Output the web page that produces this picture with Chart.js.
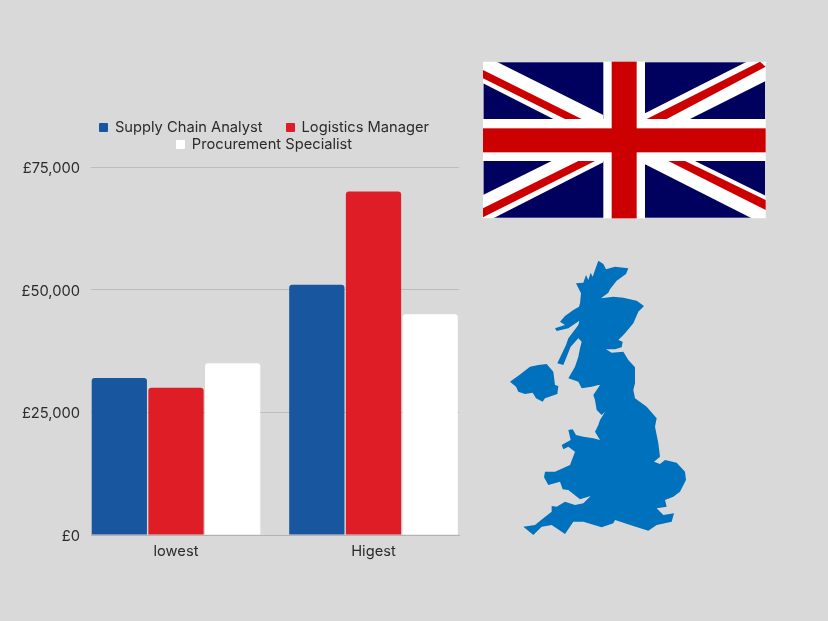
<!DOCTYPE html>
<html>
<head>
<meta charset="utf-8">
<title>Salaries</title>
<script src="https://cdn.jsdelivr.net/npm/chart.js@4"></script>
<style>
html, body { margin: 0; padding: 0; }
body { width: 828px; height: 621px; background: #d9d9d9; overflow: hidden; position: relative; font-family: Inter, sans-serif; }
#myChart { position: absolute; left: 0; top: 0; }
#legend { position: absolute; left: 64px; top: 119px; width: 400px; display: flex; flex-wrap: wrap; justify-content: center; column-gap: 23px; font-size: 14.7px; line-height: 17px; color: #2b2b2b; }
#legend span.item { display: flex; align-items: center; white-space: nowrap; }
#legend i { width: 9px; height: 9px; border-radius: 1px; margin-right: 7px; display: block; }
svg { position: absolute; }
</style>
</head>
<body>
<canvas id="myChart" width="480" height="621"></canvas>
<div id="legend"></div>

<svg style="left:475px;top:55px" width="300" height="170" viewBox="0 0 900 510">
  <rect x="26" y="22" width="844" height="466" fill="#00005f"/>
  <g fill="#ffffff">
    <polygon points="24,20 65,20 385,180 385,192 235,192 24,85"/>
    <polygon points="815,20 872,20 872,78 645,192 510,192 510,175"/>
    <polygon points="24,420 230,318 385,318 385,322 55,490 24,490"/>
    <polygon points="510,318 660,318 872,422 872,490 830,490 510,328"/>
    <rect x="385" y="20" width="125" height="470"/>
    <rect x="24" y="192" width="848" height="126"/>
  </g>
  <g fill="#cc0000">
    <polygon points="24,45 320,192 270,192 24,70"/>
    <polygon points="855,20 872,35 575,192 515,192"/>
    <polygon points="24,460 310,318 360,318 24,487"/>
    <polygon points="580,318 630,318 872,435 872,465"/>
    <rect x="410" y="20" width="75" height="470"/>
    <rect x="24" y="220" width="848" height="72"/>
  </g>
</svg>

<svg style="left:500px;top:250px" width="200" height="290" viewBox="0 0 600 870">
  <path fill="#0071bc" d="M295,32 310,42 318,58 345,50 385,55 378,72 350,92 330,118 325,128 303,145 340,140 370,143 410,152 432,168 415,185 400,220 375,250 355,270 368,275 365,292 345,298 318,298 335,308 370,305 385,330 405,352 405,400 400,420 405,445 440,470 470,505 465,530 475,580 480,620 462,635 480,642 495,630 530,638 555,665 558,690 540,725 520,740 495,750 500,770 470,775 490,795 522,790 515,815 470,825 445,842 400,828 345,810 340,820 305,832 250,815 220,815 195,852 155,825 125,830 100,855 70,830 105,825 130,805 155,785 155,768 170,770 195,755 225,765 250,760 272,738 240,748 205,720 188,718 180,695 145,705 132,682 135,665 165,665 210,645 225,605 205,590 190,598 185,585 212,570 205,540 218,538 228,555 250,560 280,565 300,570 285,545 295,525 300,510 315,485 305,495 290,480 285,450 280,435 300,405 315,405 295,405 275,410 245,415 235,395 205,385 225,350 235,320 240,295 245,275 235,265 212,290 190,345 172,340 198,285 205,265 235,225 238,212 205,235 170,243 165,235 195,225 180,215 195,198 220,180 237,170 240,160 243,130 228,100 250,98 258,75 265,90 272,68 278,80 285,60Z"/>
  <path fill="#0071bc" d="M30,395 58,375 90,350 115,345 140,342 160,365 165,405 175,408 172,432 135,445 128,455 108,445 98,428 75,432 55,425 48,410Z"/>
</svg>

<script>
var categories = ['lowest', 'Higest'];
var seriesNames = ['Supply Chain Analyst', 'Logistics Manager', 'Procurement Specialist'];
var analystValues = [32000, 51000];
var managerValues = [30000, 70000];
var specialistValues = [35000, 45000];
var yTicks = [0, 25000, 50000, 75000];
var seriesColors = ['#1857a0', '#de1d26', '#ffffff'];

var tickFont = { family: 'Inter', size: 14.7 };
var tickColor = '#2b2b2b';

// html legend, the built in one can't have different row and column gaps
var htmlLegend = {
    id: 'htmlLegend',
    afterUpdate: function(chart) {
        var box = document.getElementById('legend');
        box.innerHTML = '';
        chart.data.datasets.forEach(function(ds) {
            var item = document.createElement('span');
            item.className = 'item';
            var mark = document.createElement('i');
            mark.style.background = ds.backgroundColor;
            item.appendChild(mark);
            item.appendChild(document.createTextNode(ds.label));
            box.appendChild(item);
        });
    }
};

function makeDataset(i, values) {
    return {
        label: seriesNames[i],
        data: values,
        backgroundColor: seriesColors[i],
        borderRadius: { topLeft: 3, topRight: 3, bottomLeft: 0, bottomRight: 0 },
        borderSkipped: false,
        categoryPercentage: 0.861,
        barPercentage: 0.975
    };
}

var ctx = document.getElementById('myChart').getContext('2d');
var myChart = new Chart(ctx, {
    type: 'bar',
    data: {
        // linear x axis, the groups touch the ends of the plot and a category axis can't do that
        labels: categories.map(function(c, i) { return i; }),
        datasets: [
            makeDataset(0, analystValues),
            makeDataset(1, managerValues),
            makeDataset(2, specialistValues)
        ]
    },
    options: {
        responsive: false,
        animation: false,
        layout: { padding: { top: 167, right: 21, left: 0, bottom: 0 } },
        plugins: { legend: { display: false }, tooltip: { enabled: false } },
        scales: {
            x: {
                type: 'linear',
                offset: false,
                min: -0.4304,
                max: 1.4329,
                afterBuildTicks: function(scale) {
                    scale.ticks = categories.map(function(c, i) { return { value: i }; });
                },
                grid: { display: false },
                border: { color: '#b3b3b3', width: 1 },
                ticks: {
                    font: tickFont,
                    color: tickColor,
                    padding: 0,
                    callback: function(v) { return categories[v]; }
                },
                afterFit: function(scale) { scale.height = 86; }
            },
            y: {
                min: 0,
                max: 75000,
                afterBuildTicks: function(scale) {
                    scale.ticks = yTicks.map(function(v) { return { value: v }; });
                },
                grid: { color: '#bdbdbd', drawTicks: false },
                border: { display: false },
                ticks: {
                    font: tickFont,
                    color: tickColor,
                    padding: 11,
                    labelOffset: 1.5,
                    callback: function(v) { return '£' + v.toLocaleString('en-GB'); }
                },
                afterFit: function(scale) { scale.width = 91; }
            }
        }
    },
    plugins: [htmlLegend]
});
</script>
</body>
</html>
